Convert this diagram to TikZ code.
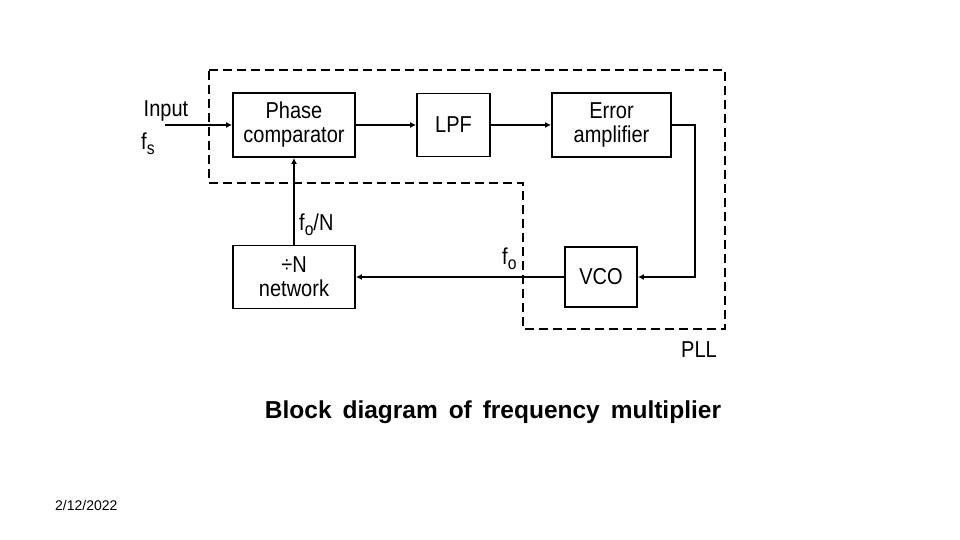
\documentclass[tikz,border=0pt]{standalone}
\usepackage{fontspec}
\setmainfont{Liberation Sans}
\newfontfamily\condfont[FakeStretch=0.87]{Liberation Sans}
\usetikzlibrary{arrows.meta}
\begin{document}
\begin{tikzpicture}[x=1pt,y=-1pt,
  blk/.style={draw,line width=1.9pt,align=center,inner sep=0pt,font=\condfont\fontsize{23}{24}\selectfont},
  conn/.style={line width=1.7pt,-{Latex[length=6pt,width=6pt]}},
  lbl/.style={inner sep=0pt,font=\condfont\fontsize{23}{24}\selectfont},
  pll/.style={line width=1.9pt,dash pattern=on 9pt off 5pt}]
\useasboundingbox (0,0) rectangle (960,540);
% PLL dashed region
\draw[pll] (209,70) -- (725,70) -- (725,329) -- (523,329) -- (523,183) -- (209,183) -- cycle;
% blocks
\node[blk,minimum width=122pt,minimum height=64pt] (pc) at (294,125) {Phase\\comparator};
\node[blk,minimum width=73pt,minimum height=63pt] (lpf) at (453.5,125) {LPF};
\node[blk,minimum width=119pt,minimum height=64pt] (ea) at (611.5,125) {Error\\amplifier};
\node[blk,minimum width=72pt,minimum height=60pt] (vco) at (601,277) {VCO};
\node[blk,minimum width=122pt,minimum height=63pt] (div) at (294,277) {÷N\\network};
% connectors
\coordinate (in) at (165,125);
\draw[conn] (in) -- (pc.west);
\draw[conn] (pc.east) -- (lpf.west);
\draw[conn] (lpf.east) -- (ea.west);
\draw[conn] (ea.east) -- ++(23,0) |- (vco.east);
\draw[conn] (vco.west) -- (div.east);
\draw[conn] (div.north) -- (pc.south);
% labels
\node[lbl,anchor=base] (tin) at (166,117) {Input};
\node[lbl,anchor=base west] (tfs) at (141,150) {f\raisebox{-5pt}{\fontsize{18}{18}\selectfont s}};
\node[lbl,anchor=base west] (tfon) at (299,230) {f\raisebox{-5pt}{\fontsize{18}{18}\selectfont o}/N};
\node[lbl,anchor=base west] (tfo) at (502,264) {f\raisebox{-5pt}{\fontsize{18}{18}\selectfont o}};
\node[lbl,anchor=base] (tpll) at (699,357) {PLL};
\node[inner sep=0pt,anchor=base,font=\bfseries\fontsize{24.5}{28}\selectfont] (title) at (493,418) {Block\, diagram\, of\, frequency\, multiplier};
\node[inner sep=0pt,anchor=base west,font=\fontsize{14}{16}\selectfont] (date) at (55,510) {2/12/2022};
\end{tikzpicture}
\end{document}
